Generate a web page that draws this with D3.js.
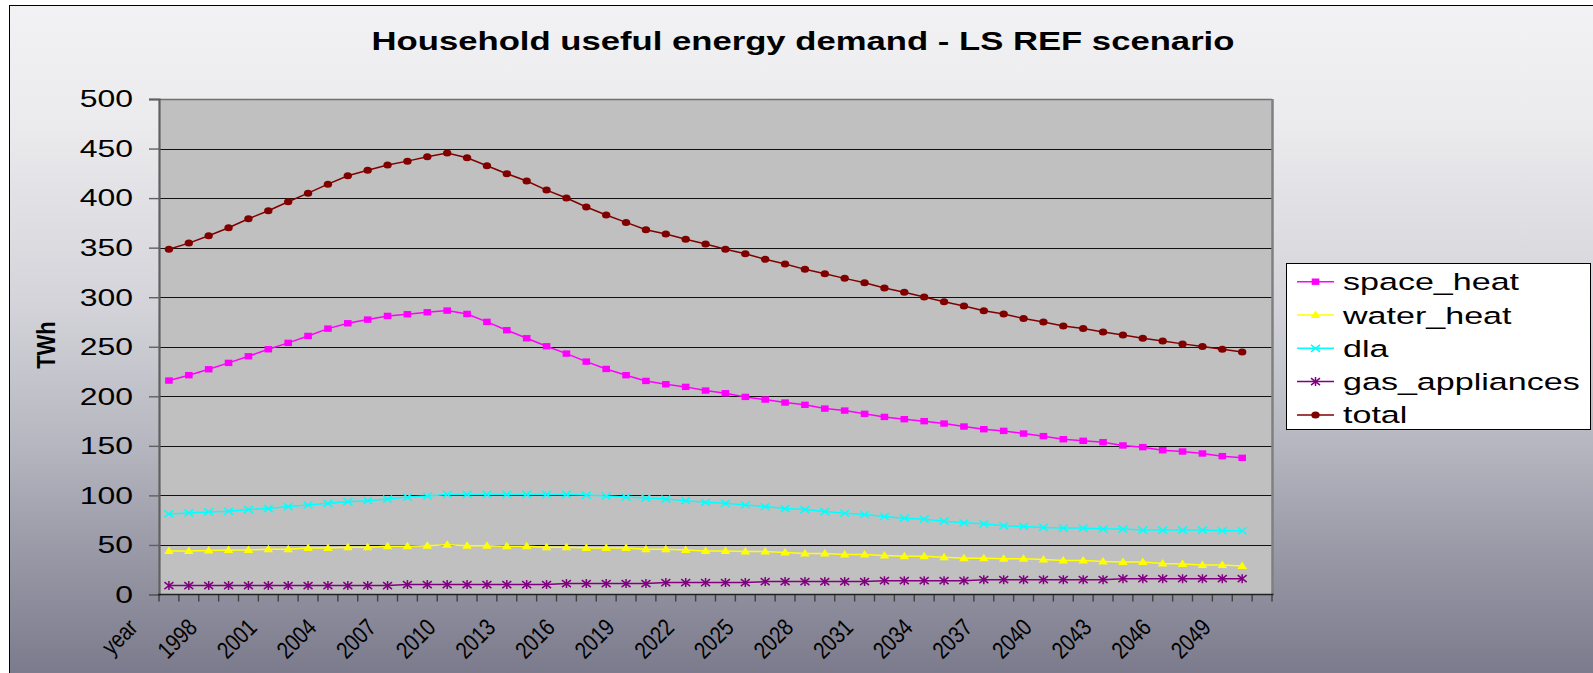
<!DOCTYPE html>
<html>
<head>
<meta charset="utf-8">
<script src="https://cdn.jsdelivr.net/npm/d3@7"></script>
<style>
  body { margin: 0; background: #ffffff; }
  svg { display: block; }
  text { font-family: "Liberation Sans", Arial, sans-serif; fill: #000; }
</style>
</head>
<body>
<svg id="chart" width="1593" height="673"></svg>
<script>
// Category axis: header cell followed by the model years
const categories = ["year",
  "1996","1997","1998","1999","2000","2001","2002","2003","2004","2005",
  "2006","2007","2008","2009","2010","2011","2012","2013","2014","2015",
  "2016","2017","2018","2019","2020","2021","2022","2023","2024","2025",
  "2026","2027","2028","2029","2030","2031","2032","2033","2034","2035",
  "2036","2037","2038","2039","2040","2041","2042","2043","2044","2045",
  "2046","2047","2048","2049","2050"];

// Useful energy demand per end use, TWh
const spaceHeat = [215.9,221.3,227.3,233.7,240.4,247.5,253.9,260.9,268.3,273.7,
  277.4,281.1,282.8,284.8,286.5,283.1,275.1,266.7,258.6,250.5,
  243.1,235.0,227.6,221.3,215.5,212.2,209.5,205.8,203.1,199.4,
  196.7,193.7,191.4,187.6,185.6,182.3,179.2,176.9,174.9,172.5,
  169.5,166.8,165.1,162.4,159.8,156.7,155.1,153.7,150.4,148.7,
  145.6,144.3,142.3,139.6,137.9];
const waterHeat = [44.0,44.0,44.3,45.0,45.0,45.7,45.7,47.0,47.0,47.7,
  47.7,48.7,48.7,49.3,50.3,49.3,49.3,48.7,48.7,47.7,
  47.7,47.0,47.0,47.0,45.7,45.7,45.0,44.0,44.0,43.3,
  43.3,42.3,41.3,41.3,40.3,40.3,39.3,38.7,38.7,37.7,
  36.7,36.7,36.0,36.0,35.3,34.3,34.3,33.3,32.7,32.7,
  31.3,30.7,29.7,29.7,28.7];
const dla = [81.3,82.3,83.3,84.0,85.7,86.7,88.7,90.3,92.0,93.7,
  94.7,96.3,98.3,99.3,101.0,101.0,101.0,101.0,101.0,101.0,
  101.0,100.3,99.3,98.3,97.3,96.3,94.7,93.0,92.0,90.3,
  88.7,86.7,85.7,83.7,82.0,80.7,78.7,77.0,76.0,74.0,
  72.3,71.3,69.3,68.7,67.7,67.0,67.0,66.0,66.0,65.0,
  65.0,65.0,65.0,64.3,64.3];
const gasAppliances = [9,9,9,9,9,9,9,9,9,9,
  9,9,10,10,10,10,10,10,10,10,
  11,11,11,11,11,12,12,12,12,12,
  13,13,13,13,13,13,14,14,14,14,
  14,15,15,15,15,15,15,15,16,16,
  16,16,16,16,16];
const total = [348.3,354.6,362.0,370.1,379.2,387.2,396.3,405.0,414.1,422.5,
  428.2,433.3,437.3,441.7,445.4,440.7,432.7,424.6,417.2,408.1,
  400.1,391.0,383.0,375.5,368.1,363.8,358.4,353.7,348.3,343.9,
  338.2,333.5,328.1,323.7,319.0,314.6,309.3,304.9,300.2,295.5,
  291.2,286.4,283.1,278.4,275.0,271.0,268.3,265.0,261.9,258.6,
  255.9,252.9,250.2,247.4,244.8];

const seriesNames = ["space_heat", "water_heat", "dla", "gas_appliances", "total"];
const yTicks = [0, 50, 100, 150, 200, 250, 300, 350, 400, 450, 500];
const titleText = "Household useful energy demand - LS REF scenario";
const yTitle = "TWh";

// ---- styling -------------------------------------------------------------
const styles = {
  space_heat:     { color: "#ff00ff", marker: "square" },
  water_heat:     { color: "#ffff00", marker: "triangle" },
  dla:            { color: "#00ffff", marker: "x" },
  gas_appliances: { color: "#800080", marker: "star" },
  total:          { color: "#800000", marker: "circle" }
};
const seriesValues = [spaceHeat, waterHeat, dla, gasAppliances, total];

const svg = d3.select("#chart");
const W = 1593, H = 673;
const plot = { left: 159, right: 1272, top: 99, bottom: 594.5 };

// background gradient of the chart area
const defs = svg.append("defs");
const grad = defs.append("linearGradient")
  .attr("id", "bg").attr("gradientUnits", "userSpaceOnUse")
  .attr("x1", 0).attr("y1", 5).attr("x2", 0).attr("y2", 673);
[[0, "#f2f2f4"], [0.18, "#ebebee"], [0.45, "#d3d3d9"], [0.66, "#b6b6c0"],
 [0.83, "#9797a5"], [1, "#7b7b8d"]].forEach(([o, c]) =>
  grad.append("stop").attr("offset", o).attr("stop-color", c));

svg.append("rect").attr("x", 0).attr("y", 0).attr("width", W).attr("height", H).attr("fill", "#ffffff");
svg.append("rect").attr("x", 9.5).attr("y", 5.5).attr("width", 1600).attr("height", 700)
  .attr("fill", "url(#bg)").attr("stroke", "#000").attr("stroke-width", 1);

// scales
const x = d3.scaleBand().domain(categories).range([plot.left, plot.right]).padding(0);
const y = d3.scaleLinear().domain([0, 500]).range([plot.bottom, plot.top]);
const cx = i => x(categories[i]) + x.bandwidth() / 2;

// plot area
svg.append("rect")
  .attr("x", plot.left).attr("y", plot.top)
  .attr("width", plot.right - plot.left).attr("height", plot.bottom - plot.top)
  .attr("fill", "#c0c0c0");

// horizontal gridlines
svg.append("g").selectAll("line").data(yTicks.filter(v => v > 0)).join("line")
  .attr("x1", plot.left).attr("x2", plot.right)
  .attr("y1", d => Math.round(y(d)) + 0.5).attr("y2", d => Math.round(y(d)) + 0.5)
  .attr("stroke", d => d === 500 ? "#707070" : "#111").attr("stroke-width", d => d === 500 ? 1.6 : 1.2);

// right border of plot area
svg.append("line").attr("x1", plot.right + 0.5).attr("x2", plot.right + 0.5)
  .attr("y1", plot.top).attr("y2", plot.bottom)
  .attr("stroke", "#808080").attr("stroke-width", 2.5);

// stretched text helper
function stretchedText(g, txt, tx, ty, size, sx, anchor, weight) {
  return g.append("text")
    .attr("transform", `translate(${tx},${ty}) scale(${sx},1)`)
    .attr("text-anchor", anchor || "start")
    .attr("font-size", size)
    .attr("font-weight", weight || "normal")
    .text(txt);
}

// y axis
const yAxis = d3.axisLeft(y).tickValues(yTicks).tickSize(10).tickFormat("");
const gy = svg.append("g").attr("transform", `translate(${plot.left},0)`).call(yAxis);
gy.select(".domain").attr("stroke", "#606060").attr("stroke-width", 2.2);
gy.selectAll(".tick line").attr("stroke", "#606060").attr("stroke-width", 1.4);
const gyl = svg.append("g");
yTicks.forEach(v => stretchedText(gyl, String(v), 133, y(v) + 8.3, 23.3, 1.37, "end"));

// x axis: tick marks on category boundaries
const bounds = d3.range(categories.length + 1).map(i => plot.left + i * x.bandwidth());
svg.append("g").selectAll("line").data(bounds).join("line")
  .attr("x1", d => d).attr("x2", d => d)
  .attr("y1", plot.bottom).attr("y2", plot.bottom + 7)
  .attr("stroke", "#404040").attr("stroke-width", 1.4);
svg.append("line").attr("x1", plot.left - 1).attr("x2", plot.right + 1.5)
  .attr("y1", plot.bottom).attr("y2", plot.bottom)
  .attr("stroke", "#202020").attr("stroke-width", 1.6);

// x labels every third category, rotated (glyphs slightly condensed along the baseline)
const gxl = svg.append("g");
categories.forEach((c, i) => {
  if (i % 3 !== 0) return;
  gxl.append("text")
    .attr("transform", `translate(${cx(i) - 30},629) rotate(-45) scale(0.92,1.12)`)
    .attr("text-anchor", "end")
    .attr("font-size", 21.5)
    .text(c);
});

// markers
function drawMarker(g, type, px, py, color) {
  if (type === "square") {
    g.append("rect").attr("x", px - 3.8).attr("y", py - 3.2).attr("width", 7.6).attr("height", 6.4)
      .attr("fill", color);
  } else if (type === "triangle") {
    g.append("path").attr("d", `M${px},${py - 4.5}L${px + 4.8},${py + 3}L${px - 4.8},${py + 3}Z`)
      .attr("fill", color);
  } else if (type === "x") {
    g.append("path").attr("d", `M${px - 4.5},${py - 3.5}L${px + 4.5},${py + 3.5}M${px - 4.5},${py + 3.5}L${px + 4.5},${py - 3.5}`)
      .attr("stroke", color).attr("stroke-width", 1.5).attr("fill", "none");
  } else if (type === "star") {
    g.append("path").attr("d", `M${px - 4.5},${py - 3.5}L${px + 4.5},${py + 3.5}M${px - 4.5},${py + 3.5}L${px + 4.5},${py - 3.5}M${px},${py - 4.5}L${px},${py + 4.5}`)
      .attr("stroke", color).attr("stroke-width", 1.5).attr("fill", "none");
  } else if (type === "circle") {
    g.append("ellipse").attr("cx", px).attr("cy", py).attr("rx", 4.2).attr("ry", 3.5)
      .attr("fill", color);
  }
}

// series lines and markers
const line = d3.line().x((d, i) => cx(i)).y(d => y(d));
seriesNames.forEach((name, k) => {
  const vals = seriesValues[k];
  const st = styles[name];
  const g = svg.append("g");
  g.append("path").attr("d", line(vals)).attr("fill", "none")
    .attr("stroke", st.color).attr("stroke-width", 1.5);
  vals.forEach((v, i) => drawMarker(g, st.marker, cx(i), y(v), st.color));
});

// title
stretchedText(svg, titleText, 803, 50, 25.5, 1.36, "middle", "bold");

// y axis title
svg.append("text")
  .attr("transform", "translate(55,345) rotate(-90) scale(1,1.2)")
  .attr("text-anchor", "middle").attr("font-size", 22).attr("font-weight", "bold")
  .text(yTitle);

// legend
const lg = svg.append("g");
lg.append("rect").attr("x", 1286.5).attr("y", 263.5).attr("width", 304).attr("height", 166)
  .attr("fill", "#ffffff").attr("stroke", "#000").attr("stroke-width", 1);
seriesNames.forEach((name, k) => {
  const ly = 281.7 + k * 33.3;
  const st = styles[name];
  lg.append("line").attr("x1", 1297).attr("x2", 1334).attr("y1", ly).attr("y2", ly)
    .attr("stroke", st.color).attr("stroke-width", 1.5);
  drawMarker(lg, st.marker, 1315.5, ly, st.color);
  stretchedText(lg, name, 1343, ly + 8.5, 23.5, 1.45, "start");
});
</script>
</body>
</html>
